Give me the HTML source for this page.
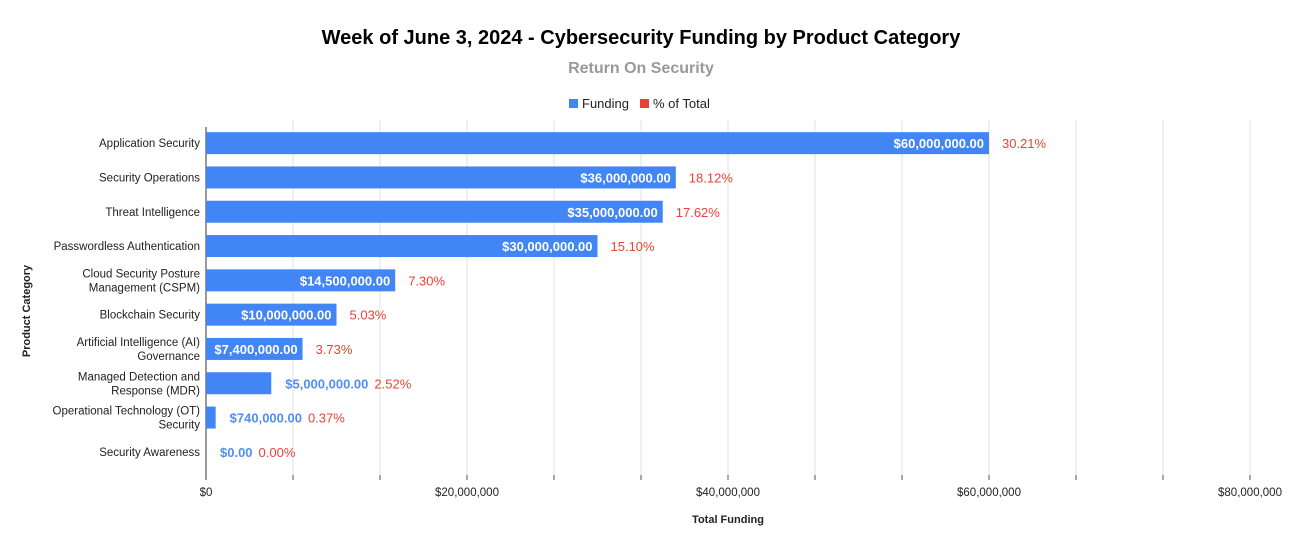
<!DOCTYPE html>
<html><head><meta charset="utf-8"><style>
body{margin:0;background:#fff;font-family:"Liberation Sans",Arial,sans-serif}
svg text{font-family:"Liberation Sans",Arial,sans-serif}
</style></head><body>
<svg id="c" width="1292" height="551" xmlns="http://www.w3.org/2000/svg">
<text x="641" y="44" text-anchor="middle" font-size="20" font-weight="bold" fill="#000">Week of June 3, 2024 - Cybersecurity Funding by Product Category</text>
<text x="641" y="73" text-anchor="middle" font-size="16" font-weight="bold" fill="#999">Return On Security</text>
<g>
<rect x="569" y="99" width="9" height="9" fill="#4285f4"/>
<text x="582" y="108" font-size="13" fill="#222">Funding</text>
<rect x="640" y="99" width="9" height="9" fill="#ea4335"/>
<text x="653" y="108" font-size="13" fill="#222">% of Total</text>
</g>
<text transform="translate(30,311) rotate(-90)" text-anchor="middle" font-size="11" font-weight="bold" fill="#222">Product Category</text>
<text x="728" y="523" text-anchor="middle" font-size="11" font-weight="bold" fill="#222">Total Funding</text>
<g id="grid"></g><g id="bars"></g>
</svg>
<script>
const categories=[["Application Security"],["Security Operations"],["Threat Intelligence"],["Passwordless Authentication"],["Cloud Security Posture","Management (CSPM)"],["Blockchain Security"],["Artificial Intelligence (AI)","Governance"],["Managed Detection and","Response (MDR)"],["Operational Technology (OT)","Security"],["Security Awareness"]];
const funding=[60000000,36000000,35000000,30000000,14500000,10000000,7400000,5000000,740000,0];
const percents=["30.21%","18.12%","17.62%","15.10%","7.30%","5.03%","3.73%","2.52%","0.37%","0.00%"];
const tickValues=[0,20000000,40000000,60000000,80000000];
const tickLabels=["$0","$20,000,000","$40,000,000","$60,000,000","$80,000,000"];
const NS="http://www.w3.org/2000/svg";
const X0=206,X1=1250,Y0=126,STEP=34.3,BH=22,YB=475,XMAX=80000000;
const xs=v=>X0+(v/XMAX)*(X1-X0);
const yc=i=>Y0+STEP*i+STEP/2;
function mk(t,a,p){const e=document.createElementNS(NS,t);for(const k in a)e.setAttribute(k,a[k]);p.appendChild(e);return e;}
const grid=document.getElementById('grid'),bars=document.getElementById('bars');
for(let k=1;k<=12;k++){const v=XMAX*k/12,x=xs(v);
const g=mk('line',{x1:x,x2:x,y1:120,y2:YB,stroke:'#e0e0e0','stroke-width':1},grid);


const t=mk('line',{x1:x,x2:x,y1:YB,y2:YB+5,stroke:'#555','stroke-width':1},grid);

}
tickValues.forEach((v,i)=>{const t=mk('text',{x:xs(v),y:496,'text-anchor':'middle','font-size':11.5,fill:'#222'},grid);t.textContent=tickLabels[i];

});
const ax=mk('line',{x1:X0,x2:X0,y1:127,y2:YB+5,stroke:'#333','stroke-width':1},grid);


const fmt=v=>'$'+v.toLocaleString('en-US',{minimumFractionDigits:2,maximumFractionDigits:2});
categories.forEach((c,i)=>{const y=yc(i);
const lt=mk('text',{x:200,'text-anchor':'end','font-size':11.5,fill:'#222'},bars);


c.forEach((s,j)=>{const ts=mk('tspan',{x:200,y:y+4+(j-(c.length-1)/2)*14},lt);ts.textContent=s;});
const w=xs(funding[i])-X0;
const r=mk('rect',{x:X0,y:y-BH/2,width:w,height:BH,fill:'#4285f4'},bars);


const label=fmt(funding[i]);
const t=mk('text',{y:y+5,'font-size':13,'font-weight':'bold'},bars);
t.textContent=label;


const lw=t.getComputedTextLength();
let px;
if(w>=lw+8){t.setAttribute('x',X0+w-5);t.setAttribute('text-anchor','end');t.setAttribute('fill','#fff');px=X0+w+13;}
else{t.setAttribute('x',X0+w+14);t.setAttribute('fill','#4f8ef5');px=X0+w+14+lw+6;}
const p=mk('text',{x:px,y:y+5,'font-size':13,fill:'#ea4335'},bars);p.textContent=percents[i];


});
</script>
</body></html>
